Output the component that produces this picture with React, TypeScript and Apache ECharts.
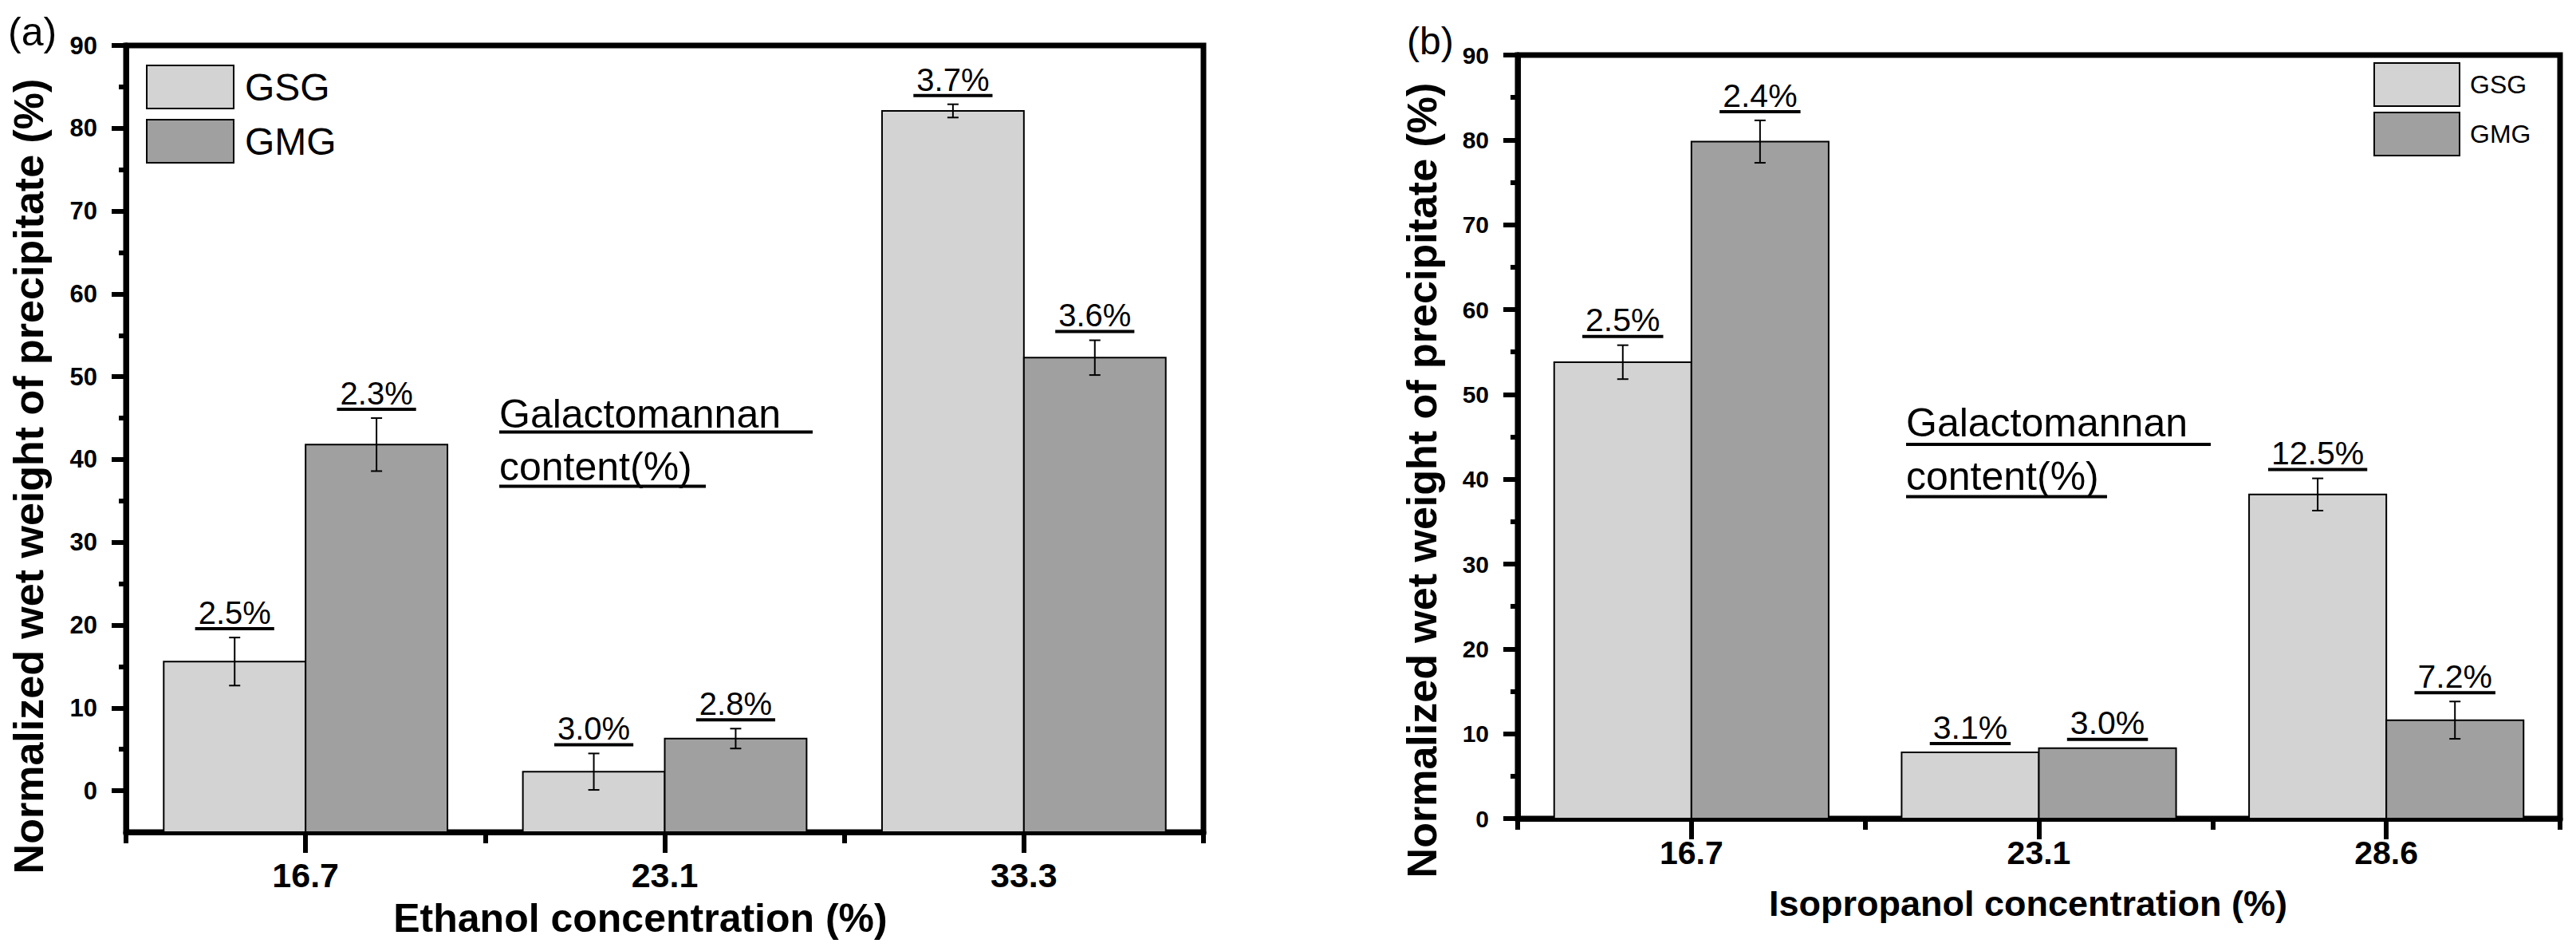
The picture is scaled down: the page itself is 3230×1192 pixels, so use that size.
import React, { useEffect, useRef } from 'react';
import * as echarts from 'echarts';

const FONT = '"Liberation Sans", Arial, Helvetica, sans-serif';

// Panel (a): ethanol
const catsA = ['16.7', '23.1', '33.3'];
const gsgA = [15.6, 2.3, 82.1];
const gsgErrA = [2.9, 2.2, 0.8];
const gmgA = [41.8, 6.3, 52.3];
const gmgErrA = [3.2, 1.2, 2.1];
const gsgLabA = ['2.5%', '3.0%', '3.7%'];
const gmgLabA = ['2.3%', '2.8%', '3.6%'];

// Panel (b): isopropanol
const catsB = ['16.7', '23.1', '28.6'];
const gsgB = [53.8, 7.8, 38.2];
const gsgErrB = [2.0, 0, 1.9];
const gmgB = [79.8, 8.3, 11.6];
const gmgErrB = [2.5, 0, 2.2];
const gsgLabB = ['2.5%', '3.1%', '12.5%'];
const gmgLabB = ['2.4%', '3.0%', '7.2%'];

const majorTicks = [0, 10, 20, 30, 40, 50, 60, 70, 80, 90];
const minorTicks = [5, 15, 25, 35, 45, 55, 65, 75, 85];
const seriesNames = ['GSG', 'GMG'];
const LIGHT = '#d3d3d3';
const DARK = '#a0a0a0';
const BAR_FRAC = 0.395;
const Y_MIN_A = -5;
const Y_MIN_B = 0;

function measure(t: string, size: number): number {
  const c = document.createElement('canvas').getContext('2d');
  if (!c) return t.length * size * 0.55;
  c.font = `normal ${size}px ${FONT}`;
  return c.measureText(t).width;
}

function buildRows(g: number[], ge: number[], m: number[], me: number[]) {
  const rows: number[][] = [];
  g.forEach((v, i) => rows.push([i, v, ge[i], 0]));
  m.forEach((v, i) => rows.push([i, v, me[i], 1]));
  return rows;
}

function makeBarRender(side: number, yMin: number, color: string) {
  return function (_params: any, api: any) {
    const cat = api.value(0);
    const v = api.value(1);
    const band = api.size([1, 0])[0];
    const bw = band * BAR_FRAC;
    const top = api.coord([cat, v]);
    const bot = api.coord([cat, yMin]);
    const x0 = side === 0 ? top[0] - bw : top[0];
    return {
      type: 'rect',
      shape: { x: x0, y: top[1], width: bw, height: bot[1] - top[1] },
      style: { fill: color, stroke: '#000', lineWidth: 2 },
    };
  };
}

function makeErrRender(labels: string[], labelSize: number, gap: number) {
  return function (params: any, api: any) {
    const cat = api.value(0);
    const v = api.value(1);
    const e = api.value(2);
    const s = api.value(3);
    const band = api.size([1, 0])[0];
    const bw = band * BAR_FRAC;
    const base = api.coord([cat, v]);
    const cx = base[0] + (s === 0 ? -bw / 2 : bw / 2);
    const yTop = api.coord([cat, v + e])[1];
    const yBot = api.coord([cat, v - e])[1];
    const children: any[] = [];
    const ls = { stroke: '#000', lineWidth: 2 };
    if (e > 0) {
      children.push({ type: 'line', shape: { x1: cx, y1: yTop, x2: cx, y2: yBot }, style: ls });
      children.push({ type: 'line', shape: { x1: cx - 7, y1: yTop, x2: cx + 7, y2: yTop }, style: ls });
      children.push({ type: 'line', shape: { x1: cx - 7, y1: yBot, x2: cx + 7, y2: yBot }, style: ls });
    }
    const text = labels[params.dataIndex];
    const tw = measure(text, labelSize);
    const uy = yTop - gap;
    children.push({
      type: 'line',
      shape: { x1: cx - tw / 2 - 4, y1: uy, x2: cx + tw / 2 + 4, y2: uy },
      style: { stroke: '#000', lineWidth: 4 },
    });
    children.push({
      type: 'text',
      x: cx,
      y: uy - 6 - 0.35 * labelSize,
      style: {
        text,
        fill: '#000',
        fontSize: labelSize,
        fontFamily: FONT,
        align: 'center',
        verticalAlign: 'middle',
      },
    });
    return { type: 'group', children };
  };
}

function mainX(gridIndex: number, cats: string[], fontSize: number, margin: number) {
  return {
    type: 'category',
    gridIndex,
    data: cats,
    axisLine: { show: true, onZero: false, lineStyle: { color: '#000', width: 7 } },
    axisTick: { show: true, alignWithLabel: false, length: 14, lineStyle: { color: '#000', width: 6 } },
    axisLabel: { show: true, color: '#000', fontSize, fontWeight: 'bold', fontFamily: FONT, margin },
    splitLine: { show: false },
  };
}

function auxX(gridIndex: number, cats: string[]) {
  return {
    type: 'category',
    gridIndex,
    data: cats,
    axisLine: { show: false, onZero: false },
    axisTick: { show: true, alignWithLabel: true, length: 26, lineStyle: { color: '#000', width: 6 } },
    axisLabel: { show: false },
    splitLine: { show: false },
  };
}

function mainY(gridIndex: number, min: number, fontSize: number) {
  return {
    type: 'value',
    gridIndex,
    min,
    max: 90,
    axisLine: { show: true, onZero: false, lineStyle: { color: '#000', width: 7 } },
    axisTick: { show: true, customValues: majorTicks, length: 18, lineStyle: { color: '#000', width: 6 } },
    axisLabel: {
      show: true,
      customValues: majorTicks,
      color: '#000',
      fontSize,
      fontWeight: 'bold',
      fontFamily: FONT,
      margin: 36,
    },
    splitLine: { show: false },
  };
}

function auxY(gridIndex: number, min: number) {
  return {
    type: 'value',
    gridIndex,
    min,
    max: 90,
    axisLine: { show: false, onZero: false },
    axisTick: { show: true, customValues: minorTicks, length: 9, lineStyle: { color: '#000', width: 6 } },
    axisLabel: { show: false },
    splitLine: { show: false },
  };
}

function barSeries(name: string, side: number, color: string, data: number[], axisIdx: number, yMin: number) {
  return {
    type: 'custom',
    name,
    xAxisIndex: axisIdx,
    yAxisIndex: axisIdx,
    data: data.map((v, i) => [i, v]),
    encode: { x: 0, y: 1 },
    itemStyle: { color, borderColor: '#000', borderWidth: 2 },
    renderItem: makeBarRender(side, yMin, color),
    clip: false,
    z: 2,
  };
}

function txt(text: string, x: number, y: number, size: number, bold: boolean, align = 'left', rotation = 0) {
  return {
    type: 'text',
    x,
    y,
    rotation,
    style: {
      text,
      fill: '#000',
      fontSize: size,
      fontWeight: bold ? 'bold' : 'normal',
      fontFamily: FONT,
      align,
      verticalAlign: 'middle',
    },
  };
}

function uline(x1: number, x2: number, y: number) {
  return { type: 'line', shape: { x1, y1: y, x2, y2: y }, style: { stroke: '#000', lineWidth: 4 } };
}

export default function App() {
  const ref = useRef<HTMLDivElement>(null);
  useEffect(() => {
    document.body.style.margin = '0';
    document.body.style.overflow = 'hidden';
    if (!ref.current) return;
    const chart = echarts.init(ref.current, undefined, { renderer: 'svg' });
    const gridA = { left: 158, top: 57, width: 1351, height: 986 };
    const gridB = { left: 1903, top: 69, width: 1307, height: 957 };
    const frame = { show: true, borderColor: '#000', borderWidth: 7, backgroundColor: 'transparent', outerBoundsMode: 'none' };
    const legendBase = {
      orient: 'vertical',
      padding: 0,
      icon: 'rect',
      selectedMode: false,
      data: seriesNames,
      itemStyle: { borderColor: '#000', borderWidth: 2 },
    };
    const option: any = {
      animation: false,
      backgroundColor: '#fff',
      grid: [
        { ...gridA, ...frame },
        { ...gridA, show: false, outerBoundsMode: 'none' },
        { ...gridB, ...frame },
        { ...gridB, show: false, outerBoundsMode: 'none' },
      ],
      xAxis: [mainX(0, catsA, 43, 32), auxX(1, catsA), mainX(2, catsB, 41, 22), auxX(3, catsB)],
      yAxis: [mainY(0, Y_MIN_A, 31), auxY(1, Y_MIN_A), mainY(2, Y_MIN_B, 30), auxY(3, Y_MIN_B)],
      legend: [
        {
          ...legendBase,
          left: 183,
          top: 81,
          itemWidth: 109,
          itemHeight: 54,
          itemGap: 12,
          textStyle: { fontSize: 48, fontFamily: FONT, color: '#000', padding: [0, 0, 0, 9] },
        },
        {
          ...legendBase,
          left: 2976,
          top: 78,
          itemWidth: 107,
          itemHeight: 54,
          itemGap: 6,
          textStyle: { fontSize: 32, fontFamily: FONT, color: '#000', padding: [0, 0, 0, 8] },
        },
      ],
      series: [
        barSeries(seriesNames[0], 0, LIGHT, gsgA, 0, Y_MIN_A),
        barSeries(seriesNames[1], 1, DARK, gmgA, 0, Y_MIN_A),
        barSeries(seriesNames[0], 0, LIGHT, gsgB, 2, Y_MIN_B),
        barSeries(seriesNames[1], 1, DARK, gmgB, 2, Y_MIN_B),
        {
          type: 'custom',
          name: 'errA',
          xAxisIndex: 0,
          yAxisIndex: 0,
          data: buildRows(gsgA, gsgErrA, gmgA, gmgErrA),
          encode: { x: 0, y: 1 },
          renderItem: makeErrRender([...gsgLabA, ...gmgLabA], 40, 11),
          clip: false,
          z: 5,
        },
        {
          type: 'custom',
          name: 'errB',
          xAxisIndex: 2,
          yAxisIndex: 2,
          data: buildRows(gsgB, gsgErrB, gmgB, gmgErrB),
          encode: { x: 0, y: 1 },
          renderItem: makeErrRender([...gsgLabB, ...gmgLabB], 41, 11),
          clip: false,
          z: 5,
        },
      ],
      graphic: [
        txt('(a)', 10, 40, 50, false),
        txt('(b)', 1764, 51, 48, false),
        txt('Normalized wet weight of precipitate (%)', 36, 597, 52, true, 'center', Math.PI / 2),
        txt('Normalized wet weight of precipitate (%)', 1783, 602, 52, true, 'center', Math.PI / 2),
        txt('Ethanol concentration (%)', 803, 1151, 50, true, 'center'),
        txt('Isopropanol concentration (%)', 2543, 1132, 45, true, 'center'),
        txt('Galactomannan', 626, 519, 50, false),
        uline(626, 1019, 541.5),
        txt('content(%)', 626, 585, 50, false),
        uline(626, 885, 609.5),
        txt('Galactomannan', 2390, 530, 50, false),
        uline(2390, 2772, 557),
        txt('content(%)', 2390, 597, 50, false),
        uline(2390, 2642, 622.6),
      ],
    };
    chart.setOption(option);
    return () => chart.dispose();
  }, []);
  return <div ref={ref} style={{ width: 3230, height: 1192 }} />;
}
